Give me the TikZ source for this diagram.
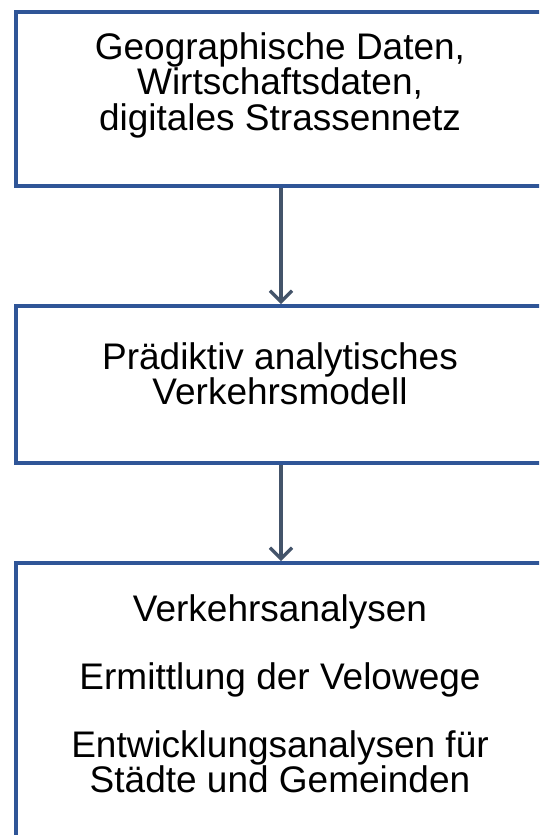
\documentclass[tikz,border=0pt]{standalone}
\usepackage{fontspec}
\setmainfont{Liberation Sans}
\usetikzlibrary{arrows.meta}
\definecolor{boxblue}{HTML}{2F5597}
\definecolor{arrowslate}{HTML}{44546A}
\begin{document}
\begin{tikzpicture}[x=1pt,y=-1pt,
  boxstyle/.style={draw=boxblue, line width=4pt, rectangle, inner sep=0pt, minimum width=530pt},
  txt/.style={align=center, inner sep=0pt, font=\fontsize{37}{35.3}\selectfont},
  flow/.style={draw=arrowslate, line width=3.2pt, -{Straight Barb[length=11pt,width=22pt]}}]
\useasboundingbox (0,0) rectangle (539,835);
\clip (0,0) rectangle (539,835);
\node[boxstyle, minimum height=173.5pt] (b1) at (281,98.75) {};
\node[boxstyle, minimum height=157pt] (b2) at (281,384.5) {};
\node[boxstyle, minimum height=340pt] (b3) at (281,733) {};
\node[txt, anchor=north] (t1) at (280,32.5) {Geographische Daten,\\Wirtschaftsdaten,\\digitales Strassennetz};
\node[txt, anchor=north] (t2) at (280,342) {Prädiktiv analytisches\\Verkehrsmodell};
\node[txt, anchor=north] (t3) at (280,594) {Verkehrsanalysen\\[33pt]Ermittlung der Velowege\\[33pt]Entwicklungsanalysen für\\Städte und Gemeinden};
\draw[flow] (b1.south) -- (b2.north);
\draw[flow] (b2.south) -- (b3.north);
\end{tikzpicture}
\end{document}
